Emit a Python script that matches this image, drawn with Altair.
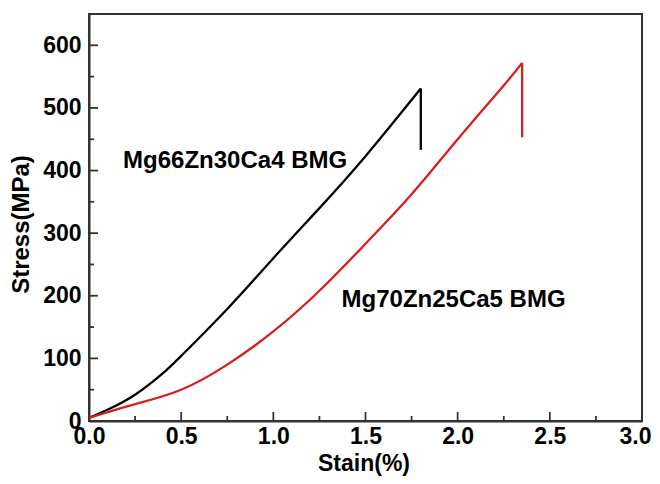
import altair as alt
import pandas as pd

# ---- data ----
series_names = ["Mg66Zn30Ca4 BMG", "Mg70Zn25Ca5 BMG"]

black_strain = [0.0, 0.1, 0.25, 0.4, 0.5, 0.75, 1.0, 1.25, 1.5, 1.8]
black_stress = [5, 18, 42, 76, 104, 179, 260, 340, 423, 531]
black_drop_strain = [1.8, 1.8]
black_drop_stress = [531, 433]

red_strain = [0.0, 0.1, 0.25, 0.5, 0.75, 1.0, 1.25, 1.5, 1.75, 2.0, 2.25, 2.35]
red_stress = [5, 14, 27, 50, 90, 143, 208, 283, 362, 450, 536, 572]
red_drop_strain = [2.35, 2.35]
red_drop_stress = [572, 453]

x_major = [0.0, 0.5, 1.0, 1.5, 2.0, 2.5, 3.0]
x_minor = [0.25, 0.75, 1.25, 1.75, 2.25, 2.75]
y_major = [0, 100, 200, 300, 400, 500, 600]
y_minor = [50, 150, 250, 350, 450, 550]

label_text = ["Mg66Zn30Ca4 BMG", "Mg70Zn25Ca5 BMG"]
label_strain = [0.185, 1.37]
label_stress = [416, 193]

# ---- tables ----
curves = pd.concat([
    pd.DataFrame({"strain": black_strain, "stress": black_stress, "series": series_names[0]}),
    pd.DataFrame({"strain": red_strain, "stress": red_stress, "series": series_names[1]}),
])
drops = pd.concat([
    pd.DataFrame({"strain": black_drop_strain, "stress": black_drop_stress, "series": series_names[0]}),
    pd.DataFrame({"strain": red_drop_strain, "stress": red_drop_stress, "series": series_names[1]}),
])
labels = pd.DataFrame({"text": label_text, "strain": label_strain, "stress": label_stress})

W, H = 553, 407
FONT = "Liberation Sans"
FRAME = "#333333"

xscale = alt.Scale(domain=[0, 3], nice=False, zero=False)
yscale = alt.Scale(domain=[0, 650], nice=False)
color = alt.Color("series:N", scale=alt.Scale(domain=series_names, range=["#000000", "#d81e1e"]), legend=None)

xaxis = alt.Axis(values=x_major, format=".1f", grid=False, ticks=False, labelFlush=False,
                 labelOffset={"condition": {"test": "datum.value == 3", "value": -7}, "value": 0},
                 domainColor=FRAME, domainWidth=2, labelFont=FONT, labelFontSize=23,
                 labelFontWeight="bold", labelColor="#000", labelPadding=4,
                 title="Stain(%)", titleFont=FONT, titleFontSize=23, titleFontWeight="bold",
                 titleColor="#000", titleX=W / 2 - 2, titleY=42, titleBaseline="middle", titleAlign="center")
yaxis = alt.Axis(values=y_major, format="d", grid=False, ticks=False, labelFlush=False,
                 domainColor=FRAME, domainWidth=2, labelFont=FONT, labelFontSize=23,
                 labelFontWeight="bold", labelColor="#000", labelPadding=8,
                 title="Stress(MPa)", titleFont=FONT, titleFontSize=24, titleFontWeight="bold",
                 titleColor="#000", titleX=-68, titleY=210, titleAngle=270,
                 titleBaseline="middle", titleAlign="center")

curve_layer = alt.Chart(curves).mark_line(strokeWidth=2.3, interpolate="natural").encode(
    x=alt.X("strain:Q", scale=xscale, axis=xaxis),
    y=alt.Y("stress:Q", scale=yscale, axis=yaxis),
    color=color,
)
drop_layer = alt.Chart(drops).mark_line(strokeWidth=2.3).encode(
    x=alt.X("strain:Q", scale=xscale),
    y=alt.Y("stress:Q", scale=yscale),
    color=color,
    detail="series:N",
)
text_layer = alt.Chart(labels).mark_text(
    font=FONT, fontSize=24, fontWeight="bold", align="left", baseline="middle", color="#000"
).encode(
    x=alt.X("strain:Q", scale=xscale),
    y=alt.Y("stress:Q", scale=yscale),
    text="text:N",
)

def tick_layer(vals, axis, length):
    df = pd.DataFrame({"v": vals})
    if axis == "x":
        return alt.Chart(df).mark_rule(color=FRAME, strokeWidth=1.8).encode(
            x=alt.X("v:Q", scale=xscale),
            y=alt.value(H), y2=alt.value(H - length))
    return alt.Chart(df).mark_rule(color=FRAME, strokeWidth=1.8).encode(
        y=alt.Y("v:Q", scale=yscale),
        x=alt.value(0), x2=alt.value(length))

chart = alt.layer(
    tick_layer(x_major, "x", 9), tick_layer(x_minor, "x", 5),
    tick_layer(y_major, "y", 9), tick_layer(y_minor, "y", 5),
    curve_layer, drop_layer, text_layer,
).properties(
    width=W, height=H,
    autosize=alt.AutoSizeParams(type="none"),
    padding={"left": 81, "top": 6, "right": 10, "bottom": 55},
    background="white",
).configure_view(
    stroke=FRAME, strokeWidth=2
)

chart.save("out.html", embed_options={"renderer": "svg", "actions": False})
